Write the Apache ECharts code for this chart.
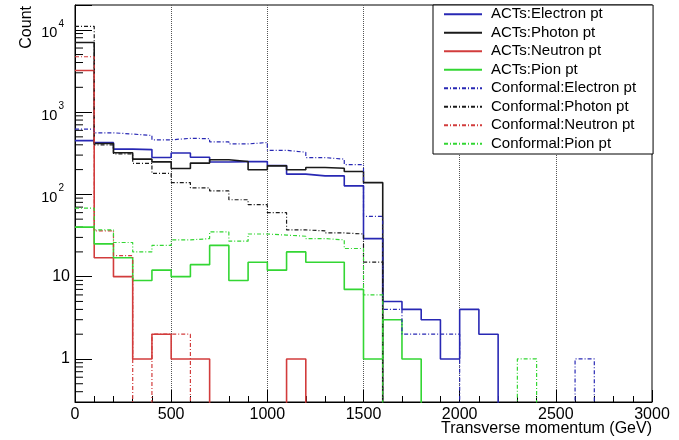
<!DOCTYPE html>
<html>
<head>
<meta charset="utf-8">
<script src="https://cdn.jsdelivr.net/npm/echarts@6/dist/echarts.min.js"></script>
<style>
  html, body { margin: 0; padding: 0; background: #fff; }
  #chart { width: 679px; height: 440px; }
</style>
</head>
<body>
<div id="chart"></div>
<script>
// Transverse momentum spectra, 100 GeV bins from 0 to 3000 GeV (counts per bin)
const binWidth = 100;

const actsElectron = [450, 425, 355, 350, 280, 318, 283, 247, 250, 251, 224, 176, 168, 168, 127, 29, 5, 4, 3, 1, 4, 2, 0, 0, 0, 0, 0, 0, 0, 0];
const actsPhoton   = [7000, 415, 320, 268, 248, 206, 240, 263, 251, 199, 222, 199, 212, 208, 190, 139, 0, 0, 0, 0, 0, 0, 0, 0, 0, 0, 0, 0, 0, 0];
const actsNeutron  = [3200, 17, 10, 1, 2, 1, 1, 0, 0, 0, 0, 1, 0, 0, 0, 0, 0, 0, 0, 0, 0, 0, 0, 0, 0, 0, 0, 0, 0, 0];
const actsPion     = [40, 25, 17, 9, 12, 10, 14, 24, 9, 15, 12, 20, 15, 15, 7, 1, 3, 1, 0, 0, 0, 0, 0, 0, 0, 0, 0, 0, 0, 0];

const confElectron = [620, 560, 540, 520, 460, 480, 475, 435, 410, 427, 343, 325, 280, 268, 230, 54, 4, 2, 2, 2, 0, 0, 0, 0, 0, 0, 1, 0, 0, 0];
const confPhoton   = [11000, 400, 310, 238, 180, 139, 120, 110, 86, 75, 60, 37, 36, 34, 33, 15, 0, 0, 0, 0, 0, 0, 0, 0, 0, 0, 0, 0, 0, 0];
const confNeutron  = [4700, 36, 18, 0, 2, 2, 0, 0, 0, 0, 0, 0, 0, 0, 0, 0, 0, 0, 0, 0, 0, 0, 0, 0, 0, 0, 0, 0, 0, 0];
const confPion     = [68, 37, 26, 20, 24, 28, 29, 35, 27, 33, 32, 31, 29, 28, 22, 6, 0, 0, 0, 0, 0, 0, 0, 1, 0, 0, 0, 0, 0, 0];

const seriesNames = [
  'ACTs:Electron pt', 'ACTs:Photon pt', 'ACTs:Neutron pt', 'ACTs:Pion pt',
  'Conformal:Electron pt', 'Conformal:Photon pt', 'Conformal:Neutron pt', 'Conformal:Pion pt'
];

// Minor ticks of the logarithmic count axis
const yMinorTicks = [
  0.4, 0.5, 0.6, 0.7, 0.8, 0.9,
  2, 3, 4, 5, 6, 7, 8, 9,
  20, 30, 40, 50, 60, 70, 80, 90,
  200, 300, 400, 500, 600, 700, 800, 900,
  2000, 3000, 4000, 5000, 6000, 7000, 8000, 9000
];

const FONT = "'Liberation Sans', Arial, Helvetica, sans-serif";
const BLUE = '#2828b4', BLACK = '#1a1a1a', RED = '#d23c3c', GREEN = '#33d633';
const DASH = [4, 2, 1, 2];

// Empty bins sit far below the visible range so the clipped step line drops to the axis
const EMPTY = 1e-3;

function histPoints(counts) {
  const pts = counts.map((c, i) => [i * binWidth, c > 0 ? c : EMPTY]);
  pts.push([counts.length * binWidth, pts[pts.length - 1][1]]);
  return pts;
}

function histSeries(name, counts, color, dashed) {
  return {
    name: name,
    type: 'line',
    step: 'end',
    symbol: 'none',
    clip: true,
    animation: false,
    data: histPoints(counts),
    itemStyle: { color: color },
    lineStyle: { color: color, width: dashed ? 1.2 : 1.6, type: dashed ? DASH : 'solid' }
  };
}

function logLabel(v) {
  const e = Math.log10(v);
  const r = Math.round(e);
  if (Math.abs(e - r) > 1e-6) return '';
  if (r === 0) return '1';
  if (r === 1) return '10';
  return '{b|10}{s|' + r + '}';
}

const chart = echarts.init(document.getElementById('chart'), null, { renderer: 'canvas' });

chart.setOption({
  animation: false,
  backgroundColor: '#fff',
  textStyle: { fontFamily: FONT },
  grid: {
    left: 75, right: 27, top: 5, bottom: 38,
    show: true, borderColor: '#000', borderWidth: 1, backgroundColor: 'transparent'
  },
  xAxis: {
    type: 'value',
    min: 0, max: 3000, interval: 500,
    axisLine: { show: true, onZero: false, lineStyle: { color: '#000', width: 1 } },
    axisTick: { show: true, inside: true, length: 12, lineStyle: { color: '#000' } },
    minorTick: { show: true, splitNumber: 5, length: 6, lineStyle: { color: '#000' } },
    axisLabel: { fontSize: 16, color: '#000', margin: 5, fontFamily: FONT, formatter: v => String(v) },
    splitLine: {
      show: true, showMinLine: false, showMaxLine: false,
      lineStyle: { type: 'dotted', color: '#555', width: 1 }
    }
  },
  yAxis: {
    type: 'log',
    logBase: 10,
    min: 0.3, max: 20000,
    axisLine: { show: true, lineStyle: { color: '#000', width: 1 } },
    axisTick: { show: true, inside: true, length: 17, lineStyle: { color: '#000' } },
    axisLabel: {
      fontSize: 16, color: '#000', margin: 5, fontFamily: FONT,
      formatter: logLabel,
      rich: {
        b: { fontSize: 14.5, lineHeight: 22, verticalAlign: 'bottom', color: '#000', fontFamily: FONT },
        s: { fontSize: 10, lineHeight: 10, verticalAlign: 'top', color: '#000', fontFamily: FONT, padding: [0, 6, 0, 1] }
      }
    },
    splitLine: { show: false }
  },
  legend: {
    orient: 'vertical',
    left: 433, top: 5,
    padding: [0, 17, 1, 10],
    itemWidth: 38, itemHeight: 10, itemGap: 0,
    backgroundColor: '#fff', borderColor: '#000', borderWidth: 1,
    selectedMode: false,
    itemStyle: { opacity: 0 },
    textStyle: { fontSize: 15, color: '#000', fontFamily: FONT, lineHeight: 18.5, padding: [0, 0, 0, 4] },
    data: seriesNames
  },
  graphic: [
    {
      type: 'text', x: 652, y: 429,
      style: { text: 'Transverse momentum (GeV)', font: '16px ' + FONT, fill: '#000', align: 'right', verticalAlign: 'middle' }
    },
    {
      type: 'text', x: 27, y: 6, rotation: Math.PI / 2,
      style: { text: 'Count', font: '16px ' + FONT, fill: '#000', align: 'right', verticalAlign: 'middle' }
    }
  ],
  series: [
    histSeries(seriesNames[0], actsElectron, BLUE, false),
    histSeries(seriesNames[1], actsPhoton, BLACK, false),
    histSeries(seriesNames[2], actsNeutron, RED, false),
    histSeries(seriesNames[3], actsPion, GREEN, false),
    histSeries(seriesNames[4], confElectron, BLUE, true),
    histSeries(seriesNames[5], confPhoton, BLACK, true),
    histSeries(seriesNames[6], confNeutron, RED, true),
    histSeries(seriesNames[7], confPion, GREEN, true),
    {
      name: 'yMinorTicks',
      type: 'custom',
      silent: true,
      animation: false,
      clip: false,
      z: 3,
      data: yMinorTicks.map(v => [0, v]),
      encode: { x: 0, y: 1 },
      renderItem: function (params, api) {
        const p = api.coord([0, api.value(1)]);
        return {
          type: 'line',
          shape: { x1: p[0], y1: p[1], x2: p[0] + 8, y2: p[1] },
          style: { stroke: '#000', lineWidth: 1 }
        };
      }
    }
  ]
});
</script>
</body>
</html>
